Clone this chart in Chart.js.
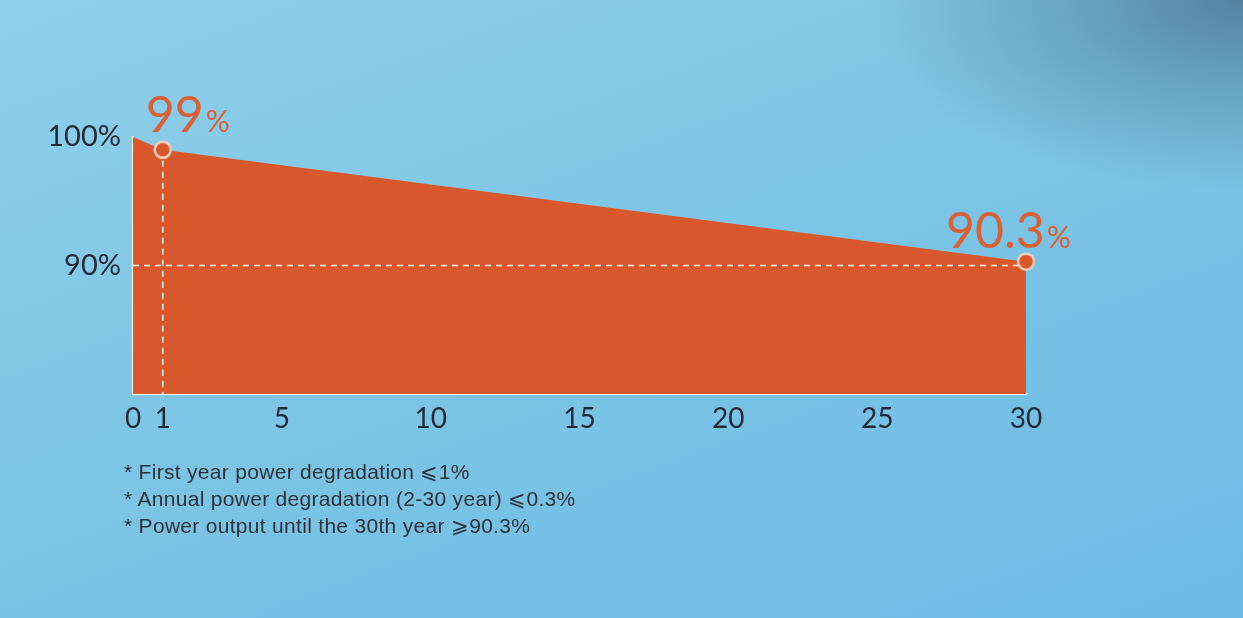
<!DOCTYPE html>
<html>
<head>
<meta charset="utf-8">
<script src="https://cdn.jsdelivr.net/npm/chart.js@4"></script>
<style>
  html, body { margin: 0; padding: 0; }
  body {
    width: 1243px; height: 618px; overflow: hidden; position: relative;
    background:
      radial-gradient(ellipse 380px 190px at 1243px 0px, rgba(80,128,158,0.95) 0%, rgba(90,140,170,0.6) 45%, rgba(110,170,205,0) 100%),
      linear-gradient(160deg, #8fd0ec 0%, #7fc6e6 40%, #73bfe4 75%, #6cbce4 100%);
  }
  #wrap { position: absolute; left: 0; top: 0; width: 1243px; height: 618px; }
  .notes {
    position: absolute; left: 124px; top: 458px;
    font-family: "Liberation Sans", Arial, sans-serif; font-size: 21px;
    letter-spacing: 0.3px;
    color: #2b3138; line-height: 27px;
  }
</style>
</head>
<body>
<div id="wrap"><canvas id="plot"></canvas></div>
<div class="notes">
  <div>* First year power degradation ⩽1%</div>
  <div>* Annual power degradation (2-30 year) ⩽0.3%</div>
  <div>* Power output until the 30th year ⩾90.3%</div>
</div>
<script>
var years = [0, 1, 30];
var output = [100, 99, 90.3];
var markedYears = [1, 30];
var markedOutput = [99, 90.3];
var markedLabels = ['99', '90.3'];
var xTicks = [0, 1, 5, 10, 15, 20, 25, 30];
var yTicks = [90, 100];
var refLevel = 90;

var orange = '#d9582b';
var dark = '#1f2a36';

// value labels above the two marked points
var pointLabels = {
    id: 'pointLabels',
    afterDatasetsDraw: function (chart) {
        var ctx = chart.ctx;
        var meta = chart.getDatasetMeta(3);
        var shifts = [[-17, -18], [-80, -14]];
        meta.data.forEach(function (pt, i) {
            ctx.save();
            ctx.fillStyle = '#d95f35';
            ctx.textBaseline = 'alphabetic';
            ctx.textAlign = 'left';
            ctx.font = '400 50px Lato, "Open Sans", sans-serif';
            var x = pt.x + shifts[i][0], y = pt.y + shifts[i][1];
            ctx.fillText(markedLabels[i], x, y);
            var w = ctx.measureText(markedLabels[i]).width;
            ctx.font = '400 30px Lato, "Open Sans", sans-serif';
            ctx.fillText('%', x + w + 2, y);
            ctx.restore();
        });
    }
};

new Chart(document.getElementById('plot'), {
    type: 'line',
    data: {
        datasets: [
            {
                data: years.map(function (x, i) { return { x: x, y: output[i] }; }),
                order: 10,
                borderWidth: 0,
                borderColor: orange,
                backgroundColor: orange,
                fill: 'start',
                pointRadius: 0,
                tension: 0
            },
            {
                data: [{ x: years[0], y: refLevel }, { x: years[years.length - 1], y: refLevel }],
                order: 5,
                borderColor: 'rgba(255,255,255,0.95)',
                borderWidth: 1.5,
                borderDash: [6, 5],
                pointRadius: 0,
                fill: false
            },
            {
                data: [{ x: markedYears[0], y: markedOutput[0] }, { x: markedYears[0], y: 80 }],
                order: 5,
                borderColor: 'rgba(255,255,255,0.95)',
                borderWidth: 1.5,
                borderDash: [6, 5],
                pointRadius: 0,
                fill: false
            },
            {
                data: markedYears.map(function (x, i) { return { x: x, y: markedOutput[i] }; }),
                order: 0,
                clip: false,
                showLine: false,
                pointRadius: 8,
                pointBorderWidth: 2.5,
                pointBackgroundColor: orange,
                pointBorderColor: '#f6cbb7'
            }
        ]
    },
    options: {
        responsive: true,
        maintainAspectRatio: false,
        animation: false,
        events: [],
        layout: { padding: { left: 0, top: 137, right: 217, bottom: 0 } },
        plugins: { legend: { display: false }, tooltip: { enabled: false } },
        scales: {
            x: {
                type: 'linear',
                min: 0,
                max: 30,
                grid: { display: false },
                border: { color: '#ffffff', width: 2 },
                afterBuildTicks: function (scale) {
                    scale.ticks = xTicks.map(function (v) { return { value: v }; });
                },
                afterFit: function (scale) { scale.height = 224; },
                ticks: {
                    color: dark,
                    padding: 0,
                    maxRotation: 0,
                    autoSkip: false,
                    font: { family: 'Lato, "Open Sans", sans-serif', size: 28 }
                }
            },
            y: {
                min: 80,
                max: 100,
                grid: { display: false },
                border: { color: '#ffffff', width: 2 },
                afterBuildTicks: function (scale) {
                    scale.ticks = yTicks.map(function (v) { return { value: v }; });
                },
                afterFit: function (scale) { scale.width = 133; },
                ticks: {
                    color: dark,
                    padding: 4,
                    font: { family: 'Lato, "Open Sans", sans-serif', size: 29 },
                    callback: function (v) { return v + '%'; }
                }
            }
        }
    },
    plugins: [pointLabels]
});
</script>
</body>
</html>
